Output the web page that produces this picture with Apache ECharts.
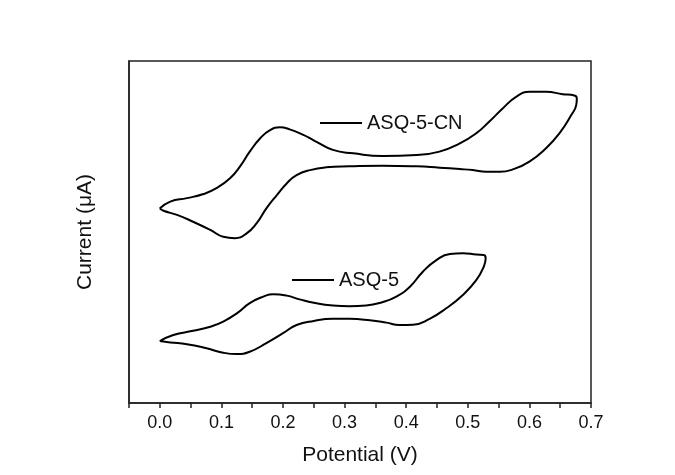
<!DOCTYPE html>
<html>
<head>
<meta charset="utf-8">
<title>CV ASQ-5 / ASQ-5-CN</title>
<script src="https://cdn.jsdelivr.net/npm/echarts@6/dist/echarts.min.js"></script>
<style>
  html, body { margin: 0; padding: 0; background: #fff; }
  #cv { width: 675px; height: 475px; }
</style>
</head>
<body>
<div id="cv"></div>
<script>
// potentials (V) and currents (arbitrary units)
var cnPotential = [0.000, 0.017, 0.044, 0.071, 0.092, 0.114, 0.130, 0.146, 0.163, 0.179, 0.195, 0.211, 0.233, 0.252, 0.281, 0.314, 0.362, 0.417, 0.454, 0.487, 0.514, 0.535, 0.557, 0.579, 0.600, 0.627, 0.654, 0.673, 0.677,
                   0.676, 0.668, 0.649, 0.627, 0.600, 0.573, 0.552, 0.530, 0.508, 0.487, 0.454, 0.417, 0.362, 0.308, 0.270, 0.244, 0.222, 0.206, 0.190, 0.173, 0.157, 0.141, 0.122, 0.103, 0.082, 0.054, 0.028, 0.006, 0.000];
var cnCurrent   = [56.9, 58.9, 59.9, 61.1, 62.8, 65.7, 69.1, 73.5, 77.4, 79.8, 80.6, 80.0, 78.4, 76.6, 74.0, 73.0, 72.2, 72.5, 73.5, 75.9, 78.9, 82.3, 86.2, 89.6, 91.0, 91.0, 90.3, 89.9, 89.1,
                   87.1, 84.2, 78.9, 74.5, 70.6, 68.3, 67.6, 67.6, 68.1, 68.4, 68.8, 69.2, 69.4, 69.2, 68.9, 68.1, 66.6, 64.2, 60.8, 56.9, 52.5, 49.6, 48.2, 48.6, 50.6, 53.0, 55.0, 56.2, 56.9];

var asqPotential = [0.000, 0.022, 0.054, 0.082, 0.103, 0.125, 0.146, 0.168, 0.184, 0.206, 0.227, 0.250, 0.281, 0.308, 0.335, 0.360, 0.384, 0.406, 0.427, 0.449, 0.471, 0.492, 0.514, 0.526, 0.529,
                    0.526, 0.514, 0.492, 0.465, 0.438, 0.411, 0.389, 0.368, 0.341, 0.308, 0.281, 0.250, 0.222, 0.200, 0.173, 0.146, 0.125, 0.103, 0.076, 0.044, 0.017, 0.000];
var asqCurrent   = [18.1, 19.9, 21.1, 22.3, 23.8, 26.2, 29.2, 31.1, 31.8, 31.4, 30.3, 29.3, 28.5, 28.3, 28.5, 29.4, 31.1, 34.0, 38.4, 41.8, 43.6, 43.8, 43.4, 43.3, 42.3,
                    39.9, 36.0, 31.6, 27.7, 24.6, 22.9, 22.8, 23.5, 24.2, 24.6, 24.6, 24.0, 22.8, 20.4, 17.5, 15.0, 14.3, 14.7, 16.0, 17.2, 17.7, 18.1];

var seriesNames = ['ASQ-5-CN', 'ASQ-5'];
var xTicks = { min: -0.05, max: 0.7, step: 0.05 };

function zip(xs, ys) {
  return xs.map(function (x, i) { return [x, ys[i]]; });
}

function draw_cv() {
  var dom = document.getElementById('cv');
  var myChart = echarts.init(dom, null, { renderer: 'canvas' });
  var font = 'Liberation Sans, Arial, sans-serif';

  var option = {
    animation: false,
    grid: {
      left: 129,
      right: 84,
      top: 61,
      bottom: 72,
      show: true,
      borderColor: '#222',
      borderWidth: 1.5,
      outerBoundsMode: 'none'
    },
    legend: [
      {
        data: [seriesNames[0]],
        left: 320, top: 113, padding: 0,
        icon: 'rect', itemWidth: 42, itemHeight: 2,
        textStyle: { fontFamily: font, fontSize: 20, color: '#111' }
      },
      {
        data: [seriesNames[1]],
        left: 292, top: 270, padding: 0,
        icon: 'rect', itemWidth: 42, itemHeight: 2,
        textStyle: { fontFamily: font, fontSize: 20, color: '#111' }
      }
    ],
    xAxis: {
      type: 'value',
      min: xTicks.min,
      max: xTicks.max,
      interval: xTicks.step,
      name: 'Potential (V)',
      nameLocation: 'middle',
      nameGap: 42,
      nameTextStyle: { fontFamily: font, fontSize: 21, color: '#111' },
      axisLine: { onZero: false, lineStyle: { color: '#222', width: 1.5 } },
      axisTick: { show: true, inside: false, length: 5, lineStyle: { color: '#222', width: 1.5 } },
      axisLabel: {
        margin: 11,
        fontFamily: font,
        fontSize: 18,
        color: '#111',
        formatter: function (v) {
          var k = Math.round(v * 100);
          return (k % 10 === 0 && k >= 0) ? (k / 100).toFixed(1) : '';
        }
      },
      splitLine: { show: false }
    },
    yAxis: {
      type: 'value',
      min: 0,
      max: 100,
      name: 'Current (\u03bcA)',
      nameLocation: 'middle',
      nameGap: 33,
      nameRotate: 90,
      nameTextStyle: { fontFamily: font, fontSize: 21, color: '#111' },
      axisLine: { show: true, onZero: false, lineStyle: { color: '#222', width: 1.5 } },
      axisTick: { show: false },
      axisLabel: { show: false },
      splitLine: { show: false }
    },
    series: [
      {
        name: seriesNames[0],
        type: 'line',
        data: zip(cnPotential, cnCurrent),
        smooth: 0.5,
        showSymbol: false,
        color: '#000',
        lineStyle: { color: '#000', width: 2 }
      },
      {
        name: seriesNames[1],
        type: 'line',
        data: zip(asqPotential, asqCurrent),
        smooth: 0.5,
        showSymbol: false,
        color: '#000',
        lineStyle: { color: '#000', width: 2 }
      }
    ]
  };

  myChart.setOption(option);
  window.addEventListener('resize', myChart.resize);
}

draw_cv();
</script>
</body>
</html>
